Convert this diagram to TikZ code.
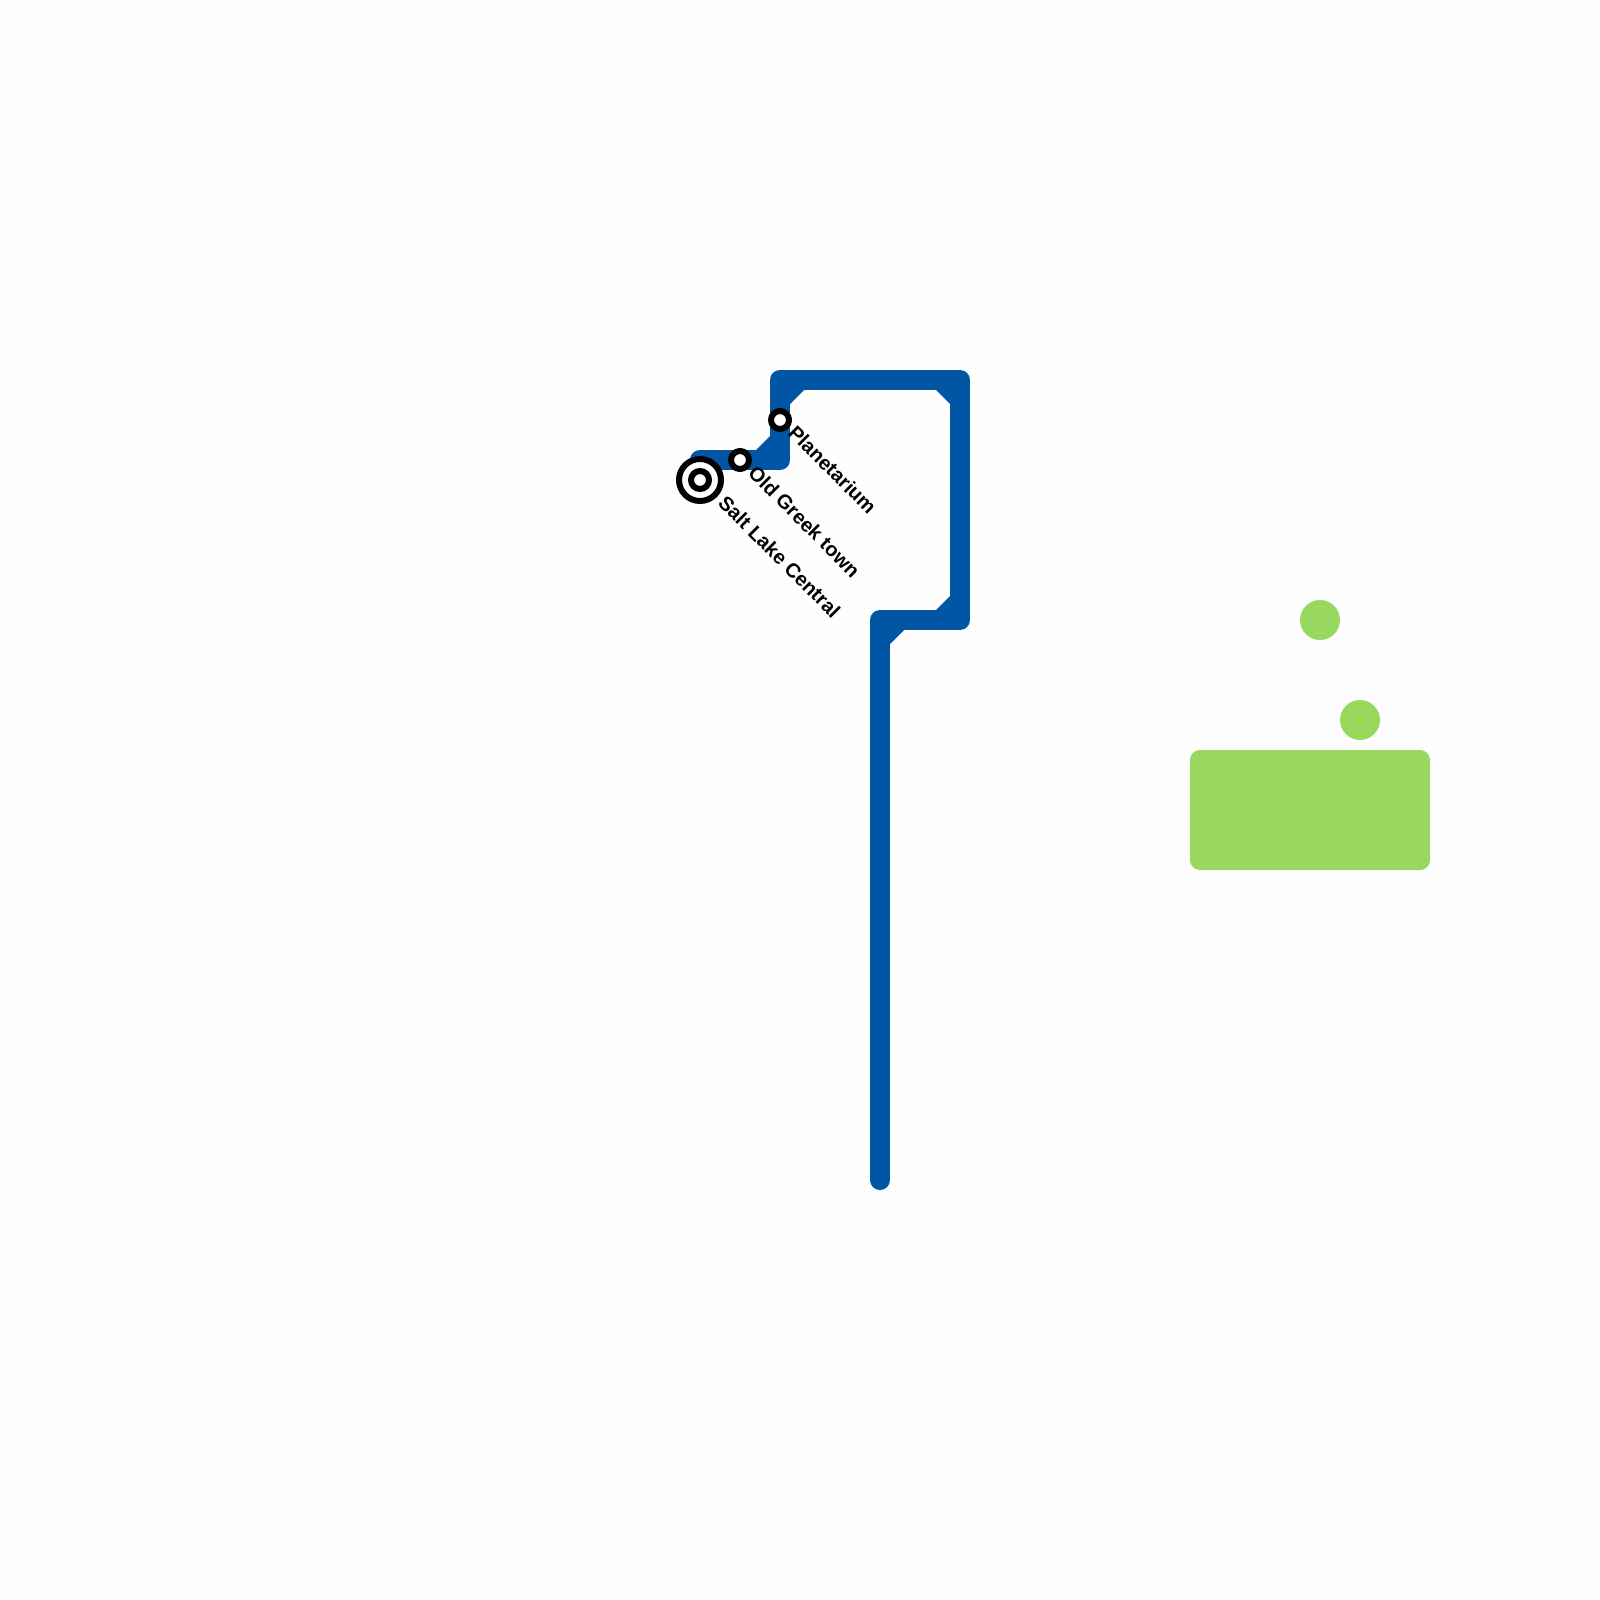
\documentclass[tikz,border=0pt]{standalone}
\usepackage{fontspec}
\setmainfont{Liberation Sans}
\definecolor{lineblue}{HTML}{0055A4}
\definecolor{parkgreen}{HTML}{98D85E}
\definecolor{paper}{HTML}{FEFEFE}
\tikzset{
  x=1pt,y=-1pt,
  metro/.style={draw=lineblue,line width=20pt,line join=round,line cap=round},
  chamfer/.style={fill=lineblue,draw=none},
  station/.style={circle,draw=black,fill=white,line width=6pt,minimum size=18pt,inner sep=0pt,outer sep=0pt},
  hub/.style={circle,draw=black,fill=white,line width=6pt,minimum size=42pt,inner sep=0pt,outer sep=0pt},
  stationlabel/.style={anchor=west,rotate=-45,inner sep=0pt,font=\fontsize{20}{24}\selectfont\bfseries,text=black},
  park/.style={fill=parkgreen,draw=none,inner sep=0pt,outer sep=0pt},
}
\begin{document}
\begin{tikzpicture}
\useasboundingbox (0,0) rectangle (1600,1600);
\fill[paper] (0,0) rectangle (1600,1600);
% park
\node[park,rectangle,rounded corners=10pt,minimum width=240pt,minimum height=120pt] (parkrect) at (1310,810) {};
\node[park,circle,minimum size=40pt] (parkA) at (1320,620) {};
\node[park,circle,minimum size=40pt] (parkB) at (1360,720) {};
% line waypoints
\coordinate (w0) at (700,460);
\coordinate (w1) at (780,460);
\coordinate (w2) at (780,380);
\coordinate (w3) at (960,380);
\coordinate (w4) at (960,620);
\coordinate (w5) at (880,620);
\coordinate (w6) at (880,1180);
\draw[metro] (w0) -- (w1) -- (w2) -- (w3) -- (w4) -- (w5) -- (w6);
% inner corner chamfers
\fill[chamfer] (770,450) -- (770,436) -- (756,450) -- cycle;
\fill[chamfer] (790,390) -- (804,390) -- (790,404) -- cycle;
\fill[chamfer] (950,390) -- (936,390) -- (950,404) -- cycle;
\fill[chamfer] (950,610) -- (950,596) -- (936,610) -- cycle;
\fill[chamfer] (890,630) -- (904,630) -- (890,644) -- cycle;
% stations
\node[hub] (salt) at (700,480) {};
\node[station] (saltinner) at (700,480) {};
\node[station] (greek) at (740,460) {};
\node[station] (planet) at (780,420) {};
% labels
\node[stationlabel] (saltlabel) at (722,499) {Salt Lake Central};
\node[stationlabel] (greeklabel) at (752,469) {Old Greek town};
\node[stationlabel] (planetlabel) at (792,429) {Planetarium};
\end{tikzpicture}
\end{document}
